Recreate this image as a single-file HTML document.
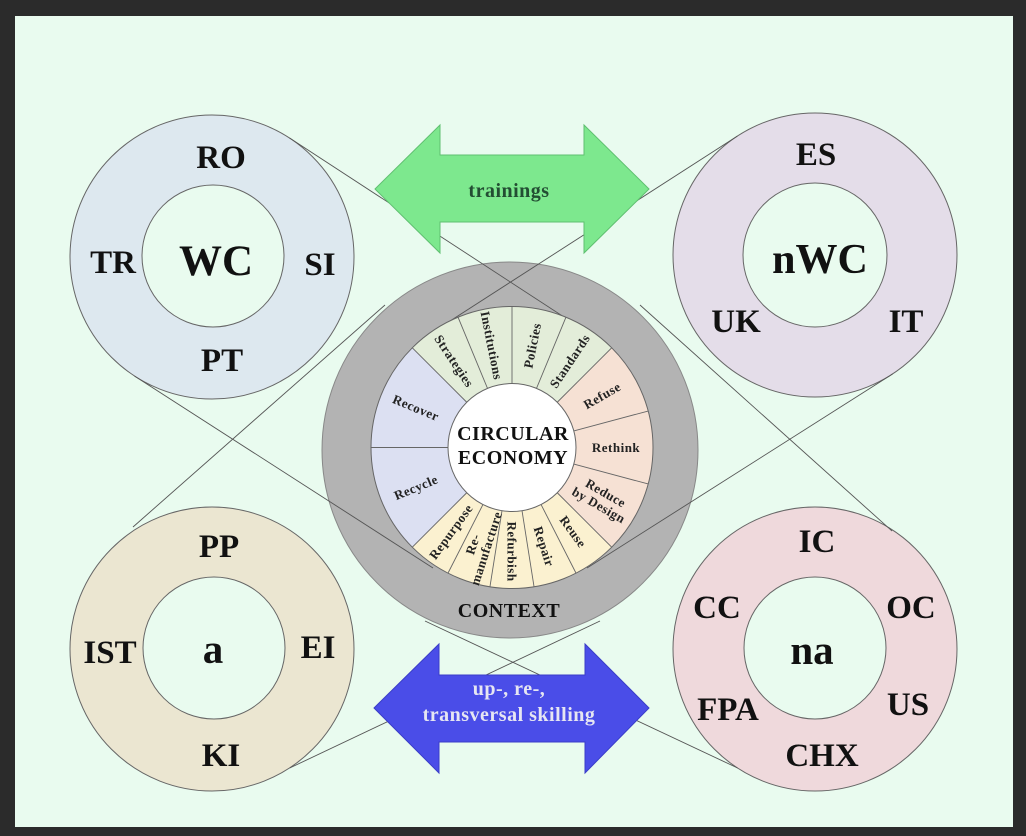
<!DOCTYPE html>
<html>
<head>
<meta charset="utf-8">
<style>
  html,body{margin:0;padding:0;background:#2b2b2b;}
  svg{display:block;}
  .lbl{font-family:"Liberation Serif","DejaVu Serif",serif;font-weight:bold;fill:#111;text-anchor:middle;}
  .sec{font-family:"Liberation Serif","DejaVu Serif",serif;font-weight:bold;font-size:13px;letter-spacing:0.5px;fill:#222;text-anchor:middle;}
</style>
</head>
<body>
<svg width="1026" height="836" viewBox="0 0 1026 836" xmlns="http://www.w3.org/2000/svg">
  <rect width="1026" height="836" fill="#2b2b2b"/>
  <rect x="15" y="16" width="998" height="811" fill="#e9fbef"/>

  <!-- outer rings -->
  <g stroke="#666" stroke-width="1">
    <circle cx="212" cy="257" r="142" fill="#dde8ef"/>
    <circle cx="213" cy="256" r="71" fill="#e9fbef"/>
    <circle cx="815" cy="255" r="142" fill="#e4dde9"/>
    <circle cx="815" cy="255" r="72" fill="#e9fbef"/>
    <circle cx="212" cy="649" r="142" fill="#ebe6d1"/>
    <circle cx="214" cy="648" r="71" fill="#e9fbef"/>
    <circle cx="815" cy="649" r="142" fill="#efd9dc"/>
    <circle cx="815" cy="648" r="71" fill="#e9fbef"/>
  </g>

  <!-- tangent lines from lower circles to the context ring (under gray) -->
  <g stroke="#555" stroke-width="0.9">
    <line x1="133" y1="527" x2="385" y2="305"/>
    <line x1="892" y1="531" x2="640" y2="305"/>
    <line x1="289.7" y1="768" x2="600" y2="621"/>
    <line x1="737.6" y1="768" x2="425" y2="621"/>
  </g>

  <!-- context ring -->
  <circle cx="510" cy="450" r="188" fill="#b3b3b3" stroke="#888" stroke-width="1"/>

  <!-- diagonal tangent lines (over gray) -->
  <g stroke="#555" stroke-width="0.9">
    <line x1="289.4" y1="137.9" x2="587" y2="332"/>
    <line x1="737.3" y1="136.1" x2="433" y2="332"/>
    <line x1="134.6" y1="376.1" x2="433" y2="568"/>
    <line x1="892.7" y1="373.9" x2="587" y2="568"/>
  </g>

  <!-- wheel -->
  <g transform="translate(512,447.5)">
    <path d="M0 0 L99.7 -99.7 A141 141 0 0 0 -99.7 -99.7 Z" fill="#e3edd9"/>
    <path d="M0 0 L99.7 99.7 A141 141 0 0 0 99.7 -99.7 Z" fill="#f6e1d4"/>
    <path d="M0 0 L-99.7 99.7 A141 141 0 0 0 99.7 99.7 Z" fill="#fbf1d0"/>
    <path d="M0 0 L-99.7 -99.7 A141 141 0 0 0 -99.7 99.7 Z" fill="#dce0f2"/>
    <circle r="141" fill="none" stroke="#666" stroke-width="1"/>
    <g stroke="#666" stroke-width="0.9">
      <line x1="64" y1="0" x2="141" y2="0" transform="rotate(-45)"/>
      <line x1="64" y1="0" x2="141" y2="0" transform="rotate(-67.5)"/>
      <line x1="64" y1="0" x2="141" y2="0" transform="rotate(-90)"/>
      <line x1="64" y1="0" x2="141" y2="0" transform="rotate(-112.5)"/>
      <line x1="64" y1="0" x2="141" y2="0" transform="rotate(-135)"/>
      <line x1="64" y1="0" x2="141" y2="0" transform="rotate(-180)"/>
      <line x1="64" y1="0" x2="141" y2="0" transform="rotate(-225)"/>
      <line x1="64" y1="0" x2="141" y2="0" transform="rotate(-243)"/>
      <line x1="64" y1="0" x2="141" y2="0" transform="rotate(-261)"/>
      <line x1="64" y1="0" x2="141" y2="0" transform="rotate(-279)"/>
      <line x1="64" y1="0" x2="141" y2="0" transform="rotate(-297)"/>
      <line x1="64" y1="0" x2="141" y2="0" transform="rotate(-315)"/>
      <line x1="64" y1="0" x2="141" y2="0" transform="rotate(-15)"/>
      <line x1="64" y1="0" x2="141" y2="0" transform="rotate(15)"/>
    </g>
    <circle r="64" fill="#ffffff" stroke="#666" stroke-width="1"/>

    <!-- sector labels -->
    <text class="sec" transform="rotate(-123.75) translate(104,0) rotate(180)" y="4.5">Strategies</text>
    <text class="sec" transform="rotate(-101.25) translate(104,0) rotate(180)" y="4.5">Institutions</text>
    <text class="sec" transform="rotate(-78.75) translate(104,0)" y="4.5">Policies</text>
    <text class="sec" transform="rotate(-56.25) translate(104,0)" y="4.5">Standards</text>
    <text class="sec" transform="rotate(-30) translate(104,0)" y="4.5">Refuse</text>
    <text class="sec" transform="rotate(0) translate(104,0)" y="4.5">Rethink</text>
    <text class="sec" transform="rotate(30) translate(104,0)"><tspan x="0" y="-3">Reduce</tspan><tspan x="0" y="11">by Design</tspan></text>
    <text class="sec" transform="rotate(54) translate(104,0)" y="4.5">Reuse</text>
    <text class="sec" transform="rotate(72) translate(104,0)" y="4.5">Repair</text>
    <text class="sec" transform="rotate(90) translate(104,0)" y="4.5">Refurbish</text>
    <text class="sec" transform="rotate(108) translate(104,0) rotate(180)"><tspan x="0" y="-3">Re-</tspan><tspan x="0" y="11">manufacture</tspan></text>
    <text class="sec" transform="rotate(126) translate(104,0) rotate(180)" y="4.5">Repurpose</text>
    <text class="sec" transform="rotate(157.5) translate(104,0) rotate(180)" y="4.5">Recycle</text>
    <text class="sec" transform="rotate(-157.5) translate(104,0) rotate(180)" y="4.5">Recover</text>
  </g>

  <text class="lbl" x="513" y="440" font-size="20" letter-spacing="0.5">CIRCULAR</text>
  <text class="lbl" x="513" y="464" font-size="20" letter-spacing="0.5">ECONOMY</text>
  <text class="lbl" x="509" y="617" font-size="20" letter-spacing="0.5">CONTEXT</text>

  <!-- arrows -->
  <polygon points="375,189 440,125 440,155 584,155 584,125 649,189 584,253 584,222 440,222 440,253" fill="#7de88e" stroke="#5fbf70" stroke-width="1"/>
  <text x="509" y="197" font-family="Liberation Serif, serif" font-weight="bold" font-size="20" letter-spacing="0.5" fill="#234d33" text-anchor="middle">trainings</text>

  <polygon points="374,708 439,644 439,675 585,675 585,644 649,708 585,773 585,742 439,742 439,773" fill="#4a4de8" stroke="#3a3dc8" stroke-width="1"/>
  <text x="509" y="695" font-family="Liberation Serif, serif" font-weight="bold" font-size="20" letter-spacing="0.5" fill="#e6e6f2" text-anchor="middle">up-, re-,</text>
  <text x="509" y="721" font-family="Liberation Serif, serif" font-weight="bold" font-size="20" letter-spacing="0.5" fill="#e6e6f2" text-anchor="middle">transversal skilling</text>

  <!-- WC -->
  <text class="lbl" x="221" y="168" font-size="33">RO</text>
  <text class="lbl" x="113" y="273" font-size="33">TR</text>
  <text class="lbl" x="216" y="275" font-size="43">WC</text>
  <text class="lbl" x="320" y="275" font-size="33">SI</text>
  <text class="lbl" x="222" y="371" font-size="33">PT</text>

  <!-- nWC -->
  <text class="lbl" x="816" y="165" font-size="33">ES</text>
  <text class="lbl" x="820" y="273" font-size="42">nWC</text>
  <text class="lbl" x="736" y="332" font-size="33">UK</text>
  <text class="lbl" x="906" y="332" font-size="33">IT</text>

  <!-- a -->
  <text class="lbl" x="219" y="557" font-size="33">PP</text>
  <text class="lbl" x="110" y="663" font-size="33">IST</text>
  <text class="lbl" x="213" y="663" font-size="41">a</text>
  <text class="lbl" x="318" y="658" font-size="33">EI</text>
  <text class="lbl" x="221" y="766" font-size="33">KI</text>

  <!-- na -->
  <text class="lbl" x="817" y="552" font-size="33">IC</text>
  <text class="lbl" x="717" y="618" font-size="33">CC</text>
  <text class="lbl" x="911" y="618" font-size="33">OC</text>
  <text class="lbl" x="812" y="664" font-size="41">na</text>
  <text class="lbl" x="728" y="720" font-size="33">FPA</text>
  <text class="lbl" x="908" y="715" font-size="33">US</text>
  <text class="lbl" x="822" y="766" font-size="33">CHX</text>
</svg>
</body>
</html>
